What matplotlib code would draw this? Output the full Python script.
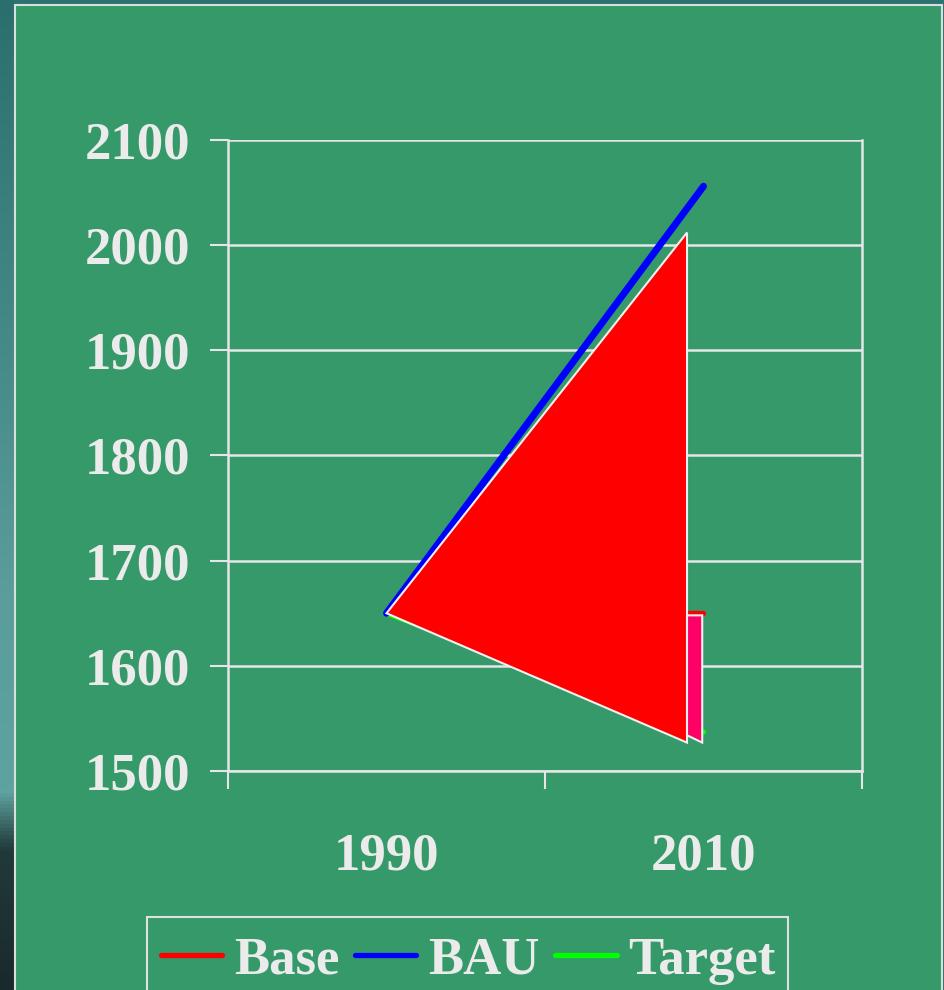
import numpy as np
import matplotlib
matplotlib.use("Agg")
import matplotlib.pyplot as plt
from matplotlib.patches import Rectangle, Polygon
from matplotlib.lines import Line2D
from matplotlib.colors import LinearSegmentedColormap

# ---- data ----
years = ["1990", "2010"]
base = [1650, 1650]
bau = [1650, 2056]
target = [1650, 1537]
series_names = ["Base", "BAU", "Target"]
# rendered area artefact (triangle + ribbon) values
tri_top = 2012
tri_bottom = 1527
ribbon_top = 1648
ribbon_bottom = [1534, 1527]
yticks = [1500, 1600, 1700, 1800, 1900, 2000, 2100]

GREEN = "#35996A"
TXT = "#EBEBEB"
GRID = "#E6E6E6"
FS = 38

plt.rcParams["font.family"] = ["Liberation Serif", "DejaVu Serif"]
plt.rcParams["font.weight"] = "bold"

W, H = 945, 990
fig = plt.figure(figsize=(W / 100, H / 100), dpi=100)
fig.patch.set_facecolor("#2C7271")

# left decorative strip (gradient)
sax = fig.add_axes([0, 0, 15 / W, 1], zorder=-2)
cmap = LinearSegmentedColormap.from_list(
    "strip", [(0, "#2A6F6E"), (0.6, "#5A9D9B"), (0.8, "#5EA3A0"),
              (0.86, "#22393A"), (1.0, "#1A2A2C")])
grad = np.linspace(0, 1, 256).reshape(-1, 1)
sax.imshow(grad, aspect="auto", cmap=cmap, extent=[0, 1, 1, 0])
sax.set_axis_off()

# green panel
fig.patches.append(Rectangle((15 / W, -0.01), (942 - 15) / W, (H - 5) / H + 0.01,
                             transform=fig.transFigure, facecolor=GREEN,
                             edgecolor="#D8E0DC", linewidth=1.5, zorder=-1))
# legend frame (drawn separately, runs off the bottom edge)
fig.patches.append(Rectangle((147 / W, -0.01), (788 - 147) / W, (H - 917) / H + 0.01,
                             transform=fig.transFigure, facecolor="none",
                             edgecolor="#E0E0E0", linewidth=1.5, zorder=1))

ax = fig.add_axes([228 / W, 1 - 771 / H, (862 - 228) / W, (771 - 140) / H])
ax.set_facecolor("none")
ax.set_xlim(0, 2)
ax.set_ylim(1500, 2100)

x = np.arange(len(years)) + 0.5
ax.plot(x, base, color="#FF0000", lw=3.8, solid_capstyle="round", zorder=2)
ax.plot(x, target, color="#00FF00", lw=3.8, solid_capstyle="round", zorder=2)
ax.plot(x, bau, color="#0000FF", lw=5, solid_capstyle="round", zorder=2)

xe = x[1] - 0.052
xr = x[1] - 0.004
tri = Polygon([(x[0], base[0]), (xe, tri_top), (xe, tri_bottom)], closed=True,
              facecolor="#FF0000", edgecolor="#F0F0F0", lw=1.5, zorder=3)
ax.add_patch(tri)
rib = Polygon([(xe, ribbon_top), (xr, ribbon_top), (xr, ribbon_bottom[1]),
               (xe, ribbon_bottom[0])], closed=True,
              facecolor="#FF0066", edgecolor="#F0F0F0", lw=1.5, zorder=3)
ax.add_patch(rib)

# grid and spines
ax.set_yticks(yticks)
ax.yaxis.grid(True, color=GRID, lw=1.8, zorder=0.5)
ax.set_axisbelow(True)
ax.spines["top"].set_visible(False)
for s in ["left", "right", "bottom"]:
    ax.spines[s].set_color(GRID)
    ax.spines[s].set_linewidth(1.8)

ax.tick_params(axis="y", colors=GRID, length=13, width=1.5, pad=14,
               labelsize=FS, labelcolor=TXT)
ax.set_xticks([0, 1, 2])
ax.set_xticklabels([])
ax.tick_params(axis="x", which="major", colors=GRID, length=13, width=1.5)
ax.set_xticks(x, minor=True)
ax.set_xticklabels(years, minor=True)
ax.tick_params(axis="x", which="minor", length=0, pad=44, labelsize=FS,
               labelcolor=TXT)
for t in ax.get_yticklabels() + ax.get_xticklabels(minor=True):
    t.set_fontweight("bold")

handles = [Line2D([], [], color=c, lw=3.8, solid_capstyle="round")
           for c in ["#FF0000", "#0000FF", "#00FF00"]]
leg = fig.legend(handles, series_names, loc="upper left",
                 bbox_to_anchor=(150 / W, 1 - 926 / H), borderaxespad=0,
                 ncol=3, frameon=False,
                 prop={"size": FS, "weight": "bold"},
                 handlelength=1.17, handletextpad=0.23, columnspacing=0.28,
                 borderpad=0.2)
for t in leg.get_texts():
    t.set_color(TXT)

fig.savefig("out.png", dpi=100, facecolor=fig.get_facecolor())
